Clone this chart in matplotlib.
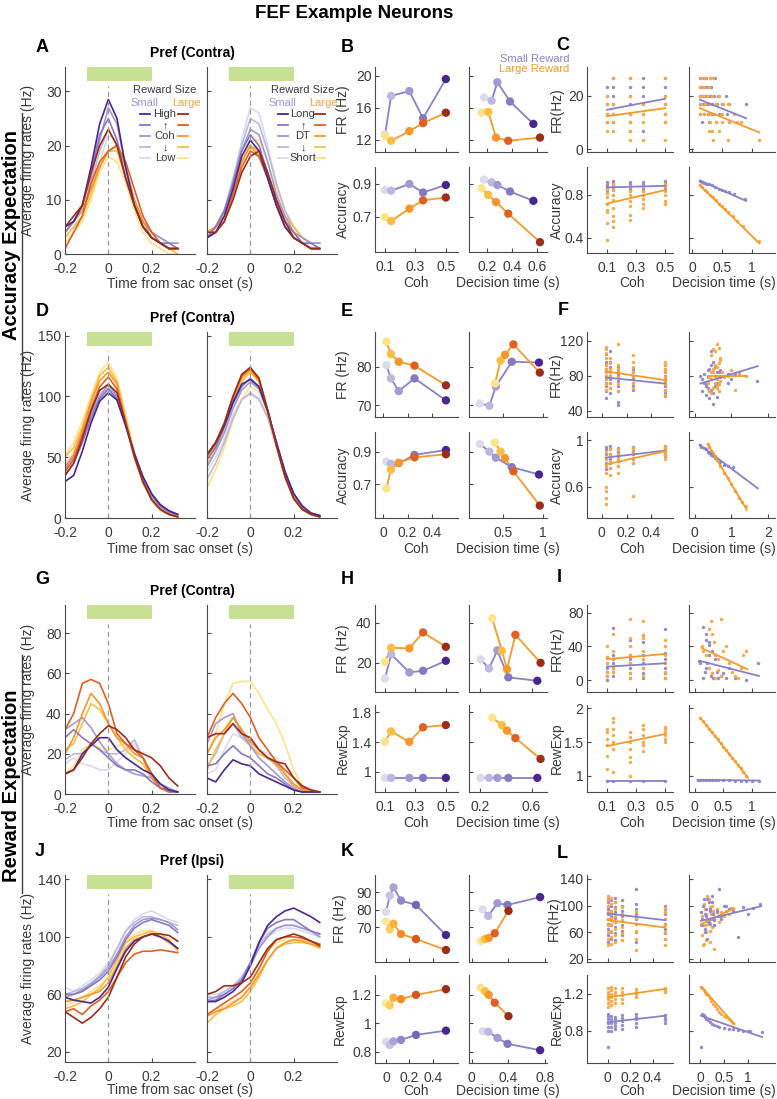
import matplotlib.pyplot as plt
import matplotlib.transforms as mtransforms
from matplotlib.lines import Line2D
from matplotlib.patches import Rectangle

plt.rcParams["font.family"] = ["Liberation Sans", "DejaVu Sans"]
plt.rcParams["axes.unicode_minus"] = False

W, H = 777, 1099

# colours (light -> dark)
PURPLE5 = ["#dcdbee", "#bdb8df", "#a29ad2", "#8679c3", "#4a2690"]
ORANGE5 = ["#fde389", "#fbbe40", "#f7962a", "#e1601f", "#9c2d16"]
PURPLE6 = ["#dddcef", "#c6c2e4", "#aba4d7", "#9187cb", "#7565bb", "#4a2690"]
ORANGE6 = ["#fde79c", "#fdcf5c", "#fbb03a", "#f38c26", "#da561d", "#9c2d16"]
P_LINE, O_LINE = "#8a80c8", "#f49b29"
P_DOT, O_DOT = "#958cd0", "#f6aa45"
GREEN = "#c6e193"
AXC, TXT = "#4a4a4a", "#3a3a3a"

# ---------------- PSTH data (time grid shared by all traces) ----------------
T = [-0.2, -0.16, -0.12, -0.08, -0.04, 0, 0.04, 0.08, 0.12, 0.16, 0.2, 0.24, 0.28, 0.32]

A_L_SMALL = [
    [3, 5, 7, 11, 17, 22, 21, 15, 10, 6, 4, 3, 2, 2],
    [4, 6, 8, 13, 19, 23, 20, 14, 9, 6, 4, 3, 2, 2],
    [5, 6, 9, 14, 21, 27, 24, 16, 10, 6, 4, 3, 2, 2],
    [4, 6, 9, 15, 22, 25, 21, 14, 9, 5, 3, 2, 2, 1],
    [5, 6, 9, 16, 24, 28.5, 25, 16, 9, 5, 3, 2, 1, 1],
]
A_L_LARGE = [
    [2, 4, 6, 10, 15, 18, 17, 13, 8, 4, 2, 1, 0, 0],
    [3, 5, 7, 11, 16, 19, 19, 14, 9, 5, 3, 2, 1, 0],
    [4, 6, 8, 12, 16, 19, 20, 16, 10, 6, 3, 2, 1, 1],
    [1, 4, 7, 13, 17, 19, 20, 17, 12, 7, 4, 2, 1, 1],
    [5, 7, 9, 15, 20, 23, 20, 14, 9, 5, 3, 2, 1, 1],
]
A_R_SMALL = [
    [3, 5, 8, 13, 21, 27, 26, 20, 13, 8, 5, 3, 2, 2],
    [4, 5, 8, 14, 20, 25, 24, 19, 13, 8, 5, 3, 2, 2],
    [3, 5, 8, 13, 19, 23, 22, 17, 11, 7, 4, 3, 2, 2],
    [3, 5, 8, 13, 19, 22, 20, 15, 10, 6, 4, 2, 2, 1],
    [3, 4, 7, 12, 18, 21, 19, 14, 9, 5, 3, 2, 1, 1],
]
A_R_LARGE = [
    [3, 4, 7, 12, 17, 21, 21, 17, 12, 8, 5, 3, 2, 2],
    [4, 5, 8, 12, 17, 20, 19, 15, 10, 7, 5, 3, 2, 1],
    [4, 5, 7, 12, 17, 20, 18, 14, 9, 6, 4, 2, 1, 1],
    [3, 4, 6, 11, 16, 19, 18, 14, 9, 5, 3, 2, 1, 1],
    [4, 4, 6, 10, 15, 18, 19, 15, 10, 6, 3, 2, 1, 1],
]

D_L_SMALL = [
    [45, 55, 70, 88, 102, 108, 98, 75, 50, 30, 16, 8, 4, 2],
    [42, 52, 68, 86, 100, 107, 99, 76, 52, 31, 17, 9, 4, 2],
    [40, 50, 66, 85, 100, 110, 100, 78, 53, 32, 18, 9, 5, 3],
    [35, 45, 62, 82, 98, 106, 98, 77, 53, 33, 19, 10, 5, 3],
    [30, 35, 55, 78, 96, 103, 97, 76, 53, 34, 20, 11, 6, 3],
]
D_L_LARGE = [
    [52, 62, 80, 100, 120, 128, 115, 85, 55, 32, 16, 7, 3, 1],
    [50, 58, 75, 97, 117, 124, 112, 82, 53, 30, 15, 7, 3, 1],
    [42, 52, 72, 95, 113, 120, 110, 80, 52, 30, 15, 7, 3, 1],
    [38, 48, 68, 90, 108, 116, 106, 78, 50, 29, 15, 7, 3, 1],
    [35, 45, 65, 88, 105, 110, 103, 78, 51, 30, 15, 7, 3, 1],
]
D_R_SMALL = [
    [38, 50, 65, 85, 98, 102, 97, 82, 58, 35, 18, 8, 3, 2],
    [32, 45, 62, 82, 97, 103, 98, 83, 60, 37, 20, 9, 4, 2],
    [42, 55, 70, 90, 105, 112, 106, 88, 63, 38, 20, 9, 4, 2],
    [48, 58, 75, 94, 108, 115, 108, 88, 62, 38, 20, 9, 4, 2],
    [52, 62, 76, 95, 110, 114, 108, 88, 62, 38, 20, 10, 4, 2],
]
D_R_LARGE = [
    [25, 40, 58, 80, 98, 108, 104, 85, 60, 36, 18, 8, 3, 1],
    [45, 55, 72, 95, 112, 120, 112, 88, 60, 35, 17, 7, 3, 1],
    [50, 60, 76, 98, 115, 122, 113, 88, 60, 35, 17, 7, 3, 1],
    [52, 62, 78, 100, 117, 123, 114, 88, 60, 34, 16, 7, 3, 1],
    [52, 62, 78, 100, 118, 124, 115, 89, 60, 34, 16, 7, 3, 1],
]

G_L_SMALL = [
    [15, 18, 15, 14, 12, 12, 16, 20, 25, 18, 10, 5, 2, 1],
    [17, 20, 20, 25, 22, 20, 20, 22, 27, 18, 10, 5, 2, 1],
    [32, 35, 38, 33, 26, 20, 15, 12, 10, 9, 8, 5, 3, 1],
    [28, 32, 28, 25, 22, 18, 14, 12, 12, 10, 6, 3, 1, 1],
    [10, 12, 20, 24, 28, 28, 22, 18, 15, 12, 10, 5, 2, 1],
]
G_L_LARGE = [
    [10, 14, 22, 25, 23, 22, 24, 25, 22, 18, 8, 3, 2, 1],
    [22, 25, 35, 45, 42, 35, 28, 22, 18, 15, 8, 3, 1, 1],
    [20, 28, 40, 50, 45, 35, 28, 25, 20, 18, 8, 3, 1, 1],
    [32, 40, 55, 57, 55, 45, 30, 25, 22, 18, 10, 3, 2, 1],
    [10, 12, 18, 25, 30, 34, 32, 28, 22, 20, 18, 14, 8, 4],
]
G_R_SMALL = [
    [10, 12, 22, 30, 28, 25, 22, 20, 18, 10, 4, 2, 1, 1],
    [14, 20, 30, 35, 28, 24, 20, 18, 14, 8, 4, 2, 1, 1],
    [25, 35, 38, 40, 30, 24, 18, 14, 10, 6, 3, 1, 1, 1],
    [14, 15, 20, 24, 20, 18, 14, 10, 8, 5, 2, 1, 1, 1],
    [8, 6, 12, 17, 15, 14, 10, 8, 6, 4, 2, 1, 1, 1],
]
G_R_LARGE = [
    [20, 30, 45, 55, 56, 56, 50, 42, 35, 25, 12, 4, 2, 1],
    [12, 22, 30, 38, 32, 24, 20, 18, 16, 10, 4, 2, 1, 1],
    [20, 28, 32, 38, 32, 26, 22, 18, 15, 10, 5, 2, 1, 1],
    [28, 38, 45, 50, 45, 38, 28, 22, 16, 12, 8, 3, 2, 1],
    [28, 30, 30, 35, 30, 28, 22, 18, 16, 15, 8, 4, 2, 1],
]

J_L_SMALL = [
    [65, 62, 66, 70, 75, 82, 92, 104, 112, 116, 118, 115, 112, 110],
    [60, 62, 64, 68, 73, 80, 92, 104, 110, 114, 114, 112, 110, 108],
    [58, 60, 63, 67, 72, 78, 88, 100, 108, 112, 113, 112, 110, 105],
    [60, 60, 62, 66, 70, 76, 86, 98, 106, 110, 112, 110, 108, 103],
    [58, 56, 55, 54, 58, 65, 78, 90, 97, 100, 102, 100, 97, 92],
]
J_L_LARGE = [
    [52, 55, 58, 62, 66, 72, 84, 96, 102, 104, 104, 100, 96, 92],
    [50, 52, 55, 60, 64, 72, 84, 96, 100, 102, 104, 102, 98, 90],
    [55, 56, 58, 60, 62, 68, 80, 92, 98, 100, 102, 100, 96, 92],
    [48, 50, 46, 52, 56, 62, 72, 82, 88, 90, 90, 91, 90, 89],
    [48, 44, 40, 44, 50, 58, 72, 86, 95, 100, 102, 102, 101, 97],
]
J_R_SMALL = [
    [60, 60, 62, 66, 72, 80, 92, 100, 104, 106, 106, 104, 102, 100],
    [58, 58, 62, 66, 72, 82, 94, 102, 106, 108, 108, 106, 104, 102],
    [56, 58, 60, 64, 70, 80, 92, 100, 106, 108, 108, 106, 104, 100],
    [55, 56, 60, 64, 70, 82, 96, 106, 110, 112, 112, 108, 104, 102],
    [55, 55, 58, 62, 68, 80, 96, 108, 114, 118, 120, 117, 114, 110],
]
J_R_LARGE = [
    [45, 48, 52, 55, 58, 65, 78, 90, 96, 98, 98, 97, 96, 94],
    [40, 46, 50, 52, 55, 62, 72, 84, 92, 95, 96, 96, 95, 92],
    [45, 48, 50, 54, 58, 65, 74, 84, 92, 96, 98, 97, 95, 93],
    [46, 50, 54, 58, 62, 68, 78, 90, 98, 100, 100, 99, 97, 95],
    [60, 62, 66, 66, 68, 72, 82, 92, 98, 100, 102, 100, 97, 94],
]

# ---------------- condition averages (B, E, H, K) ----------------
B_COH = [0.1, 0.14, 0.26, 0.35, 0.5]
B_FR_S = [12.7, 17.5, 18.1, 14.7, 19.6]
B_FR_L = [12.5, 11.9, 13.1, 14.1, 15.4]
B_ACC_S = [0.862, 0.858, 0.898, 0.847, 0.892]
B_ACC_L = [0.70, 0.676, 0.75, 0.80, 0.817]
B_DT_S = [0.176, 0.237, 0.283, 0.384, 0.571]
B_DT_L = [0.157, 0.21, 0.272, 0.37, 0.624]
B_DTFR_S = [17.3, 16.9, 19.2, 16.8, 14.0]
B_DTFR_L = [15.4, 15.5, 12.3, 11.9, 12.3]
B_DTACC_S = [0.924, 0.908, 0.892, 0.853, 0.797]
B_DTACC_L = [0.872, 0.833, 0.79, 0.72, 0.549]

E_COH = [0.028, 0.064, 0.128, 0.256, 0.512]
E_FR_S = [80.4, 77.0, 73.7, 77.0, 71.3]
E_FR_L = [86.5, 83.3, 81.3, 80.3, 75.2]
E_ACC_S = [0.839, 0.825, 0.829, 0.88, 0.91]
E_ACC_L = [0.675, 0.79, 0.832, 0.865, 0.884]
E_DT_S = [0.21, 0.33, 0.41, 0.61, 0.95]
E_DT_L = [0.40, 0.47, 0.525, 0.63, 0.96]
E_DTFR_S = [70.5, 69.9, 74.9, 81.3, 81.1]
E_DTFR_L = [75.7, 81.6, 83.1, 85.8, 78.5]
E_DTACC_S = [0.947, 0.90, 0.863, 0.805, 0.76]
E_DTACC_L = [0.955, 0.90, 0.86, 0.78, 0.57]

H_COH = [0.1, 0.14, 0.26, 0.35, 0.5]
H_FR_S = [12.2, 24.2, 15.2, 16.0, 21.0]
H_FR_L = [20.5, 27.5, 27.2, 35.2, 28.0]
H_REW_S = [0.92, 0.92, 0.92, 0.92, 0.92]
H_REW_L = [1.405, 1.545, 1.405, 1.60, 1.63]
H_DT_S = [0.205, 0.27, 0.335, 0.42, 0.645]
H_DT_L = [0.295, 0.37, 0.41, 0.475, 0.67]
H_DTFR_S = [21.7, 17.2, 26.2, 12.7, 11.0]
H_DTFR_L = [42.2, 26.0, 16.8, 34.0, 20.0]
H_DTREW_S = [0.92, 0.92, 0.92, 0.92, 0.92]
H_DTREW_L = [1.73, 1.63, 1.555, 1.455, 1.175]

K_COH = [0, 0.032, 0.064, 0.128, 0.256, 0.512]
K_FR_S = [78.8, 88.1, 92.9, 85.3, 82.8, 65.5]
K_FR_L = [73.4, 68.7, 72.0, 66.1, 63.2, 56.9]
K_REW_S = [0.87, 0.847, 0.873, 0.883, 0.918, 0.948]
K_REW_L = [1.14, 1.125, 1.18, 1.17, 1.20, 1.24]
K_DT_S = [0.12, 0.18, 0.28, 0.39, 0.745]
K_DT_L = [0.10, 0.145, 0.185, 0.25, 0.40]
K_DTFR_S = [80.2, 76.5, 83.8, 82.8, 87.3]
K_DTFR_L = [62.2, 63.2, 63.8, 66.5, 79.4]
K_DTREW_S = [0.944, 0.94, 0.897, 0.855, 0.81]
K_DTREW_L = [1.25, 1.225, 1.2, 1.145, 1.05]

# ---------------- single-trial clouds (C, F, I, L) ----------------
C_FR_S = [[10, 13.3, 16.7, 20, 23.3], [10, 13.3, 16.7, 20, 23.3, 26.7],
          [6.7, 10, 13.3, 16.7, 20, 23.3, 26.7], [6.7, 13.3, 16.7, 20, 23.3, 26.7],
          [10, 13.3, 16.7, 20, 23.3, 26.7]]
C_FR_L = [[6.7, 10, 13.3, 16.7, 20], [6.7, 10, 13.3, 16.7, 26.7],
          [3.3, 6.7, 10, 13.3, 20, 26.7], [3.3, 10, 13.3, 16.7],
          [3.3, 10, 13.3, 16.7, 20, 26.7]]
C_FR_FIT_S = [14.7, 18.8]
C_FR_FIT_L = [12.3, 15.3]
C_DT_S = [0.14, 0.2, 0.24, 0.3, 0.38, 0.14, 0.18, 0.22, 0.26, 0.32, 0.14, 0.17, 0.21, 0.25,
          0.3, 0.37, 0.44, 0.56, 0.14, 0.18, 0.22, 0.27, 0.33, 0.42, 0.5, 0.62, 0.14, 0.2,
          0.26, 0.34, 0.45, 0.58, 0.9, 0.16, 0.28, 0.4, 0.62]
C_DTFR_S = [26.7, 26.7, 26.7, 26.7, 26.7, 23.3, 23.3, 23.3, 23.3, 23.3, 20, 20, 20, 20,
            20, 20, 20, 20, 16.7, 16.7, 16.7, 16.7, 16.7, 16.7, 16.7, 16.7, 13.3, 13.3,
            13.3, 13.3, 13.3, 13.3, 16.7, 10, 10, 10, 10]
C_DT_L = [0.15, 0.22, 0.3, 0.35, 0.13, 0.2, 0.28, 0.14, 0.19, 0.25, 0.33, 0.45, 0.15, 0.22,
          0.3, 0.4, 0.52, 0.6, 0.14, 0.2, 0.28, 0.36, 0.5, 0.7, 0.3, 0.4, 0.5, 0.62, 0.75,
          0.82, 0.28, 0.33, 0.45, 1.12, 0.35, 0.6]
C_DTFR_L = [26.7, 26.7, 26.7, 26.7, 23.3, 23.3, 23.3, 20, 20, 20, 20, 20, 16.7, 16.7,
            16.7, 16.7, 16.7, 16.7, 13.3, 13.3, 13.3, 13.3, 13.3, 13.3, 10, 10, 10, 10, 10,
            10, 6.7, 6.7, 6.7, 3.3, 3.3, 3.3]
C_DTFR_FIT_X_S, C_DTFR_FIT_S = [0.13, 0.9], [18.5, 11.5]
C_DTFR_FIT_X_L, C_DTFR_FIT_L = [0.13, 1.12], [15.3, 6.2]
C_ACC_S = [[0.84, 0.86, 0.88, 0.9, 0.92], [0.85, 0.87, 0.89, 0.91, 0.93],
           [0.84, 0.86, 0.88, 0.9, 0.92], [0.84, 0.86, 0.88, 0.9, 0.92],
           [0.85, 0.87, 0.89, 0.91, 0.93]]
C_ACC_L = [[0.38, 0.54, 0.64, 0.66, 0.72, 0.78, 0.82, 0.86],
           [0.5, 0.56, 0.6, 0.68, 0.75, 0.8, 0.85, 0.9],
           [0.57, 0.61, 0.7, 0.74, 0.8, 0.84, 0.88],
           [0.68, 0.72, 0.76, 0.8, 0.84, 0.88], [0.72, 0.74, 0.8, 0.84, 0.88, 0.9]]
C_ACC_FIT_S = [0.87, 0.885]
C_ACC_FIT_L = [0.72, 0.845]
C_DT2_S = [0.13, 0.16, 0.2, 0.24, 0.28, 0.33, 0.38, 0.45, 0.5, 0.55, 0.62, 0.7, 0.88]
C_DTACC_S = [0.93, 0.92, 0.915, 0.905, 0.9, 0.89, 0.875, 0.86, 0.85, 0.84, 0.825, 0.81, 0.76]
C_DT2_L = [0.13, 0.17, 0.21, 0.25, 0.3, 0.35, 0.4, 0.45, 0.5, 0.55, 0.6, 0.68, 0.75, 0.85, 1.12]
C_DTACC_L = [0.89, 0.87, 0.85, 0.83, 0.8, 0.78, 0.75, 0.72, 0.7, 0.67, 0.64, 0.6, 0.56, 0.51, 0.37]
C_DTACC_FIT_X_S, C_DTACC_FIT_S = [0.13, 0.9], [0.935, 0.745]
C_DTACC_FIT_X_L, C_DTACC_FIT_L = [0.13, 1.12], [0.89, 0.35]

F_COH = [0.032, 0.064, 0.128, 0.256, 0.512]
F_FR_S = [[55, 62, 68, 72, 76, 80, 84, 88, 92, 96, 105], [60, 66, 72, 76, 80, 84, 90, 96, 108],
          [47, 50, 63, 68, 74, 78, 82, 86, 90], [64, 68, 72, 76, 80, 84, 88],
          [57, 60, 64, 68, 72, 76, 80, 84, 88, 92]]
F_FR_L = [[64, 70, 76, 80, 84, 88, 92, 100, 106, 110, 113], [66, 72, 78, 84, 88, 94, 100],
          [62, 70, 78, 84, 88, 92, 116], [66, 72, 80, 84, 90, 96, 104],
          [58, 64, 70, 74, 78, 84, 88, 92, 96]]
F_FR_FIT_S = [78, 71]
F_FR_FIT_L = [85, 75]
F_DT_S = [0.15, 0.2, 0.25, 0.3, 0.35, 0.4, 0.45, 0.5, 0.55, 0.6, 0.65, 0.7, 0.8, 0.9, 1.0, 1.1,
          1.2, 1.7, 0.2, 0.3, 0.35, 0.4, 0.45, 0.5, 0.55, 0.6, 0.7, 0.8, 0.3, 0.4, 0.5, 0.6,
          0.45, 0.25, 0.35, 0.9]
F_DTFR_S = [80, 76, 72, 70, 66, 62, 64, 60, 68, 72, 84, 78, 80, 82, 76, 82, 84, 74, 62, 68,
            78, 88, 92, 96, 90, 84, 86, 80, 58, 54, 48, 56, 108, 82, 86, 72]
F_DT_L = [0.35, 0.4, 0.45, 0.5, 0.55, 0.6, 0.65, 0.7, 0.75, 0.8, 0.9, 1.0, 1.2, 1.4, 0.4, 0.45,
          0.5, 0.55, 0.6, 0.65, 0.7, 0.45, 0.5, 0.55, 0.6, 0.65, 0.7, 0.6, 0.65, 0.5, 0.55,
          0.45, 0.6, 1.1]
F_DTFR_L = [72, 78, 84, 88, 80, 76, 70, 74, 84, 78, 80, 86, 82, 80, 64, 60, 66, 72, 90, 94,
            100, 104, 110, 108, 116, 112, 98, 66, 62, 84, 92, 76, 68, 64]
F_DTFR_FIT_X_S, F_DTFR_FIT_S = [0.15, 1.72], [71, 91]
F_DTFR_FIT_X_L, F_DTFR_FIT_L = [0.35, 1.4], [80, 80]
F_ACC_S = [[0.75, 0.8, 0.84, 0.88, 0.92, 0.94], [0.76, 0.8, 0.84, 0.88, 0.92, 0.95],
           [0.78, 0.82, 0.86, 0.9, 0.93], [0.8, 0.84, 0.88, 0.91, 0.94],
           [0.86, 0.88, 0.9, 0.92, 0.95]]
F_ACC_L = [[0.45, 0.5, 0.56, 0.6, 0.72, 0.78, 0.84, 0.9], [0.7, 0.76, 0.82, 0.88, 0.92],
           [0.72, 0.78, 0.84, 0.88, 0.92], [0.52, 0.8, 0.85, 0.9, 0.93],
           [0.84, 0.87, 0.9, 0.93, 0.95]]
F_ACC_FIT_S = [0.85, 0.91]
F_ACC_FIT_L = [0.79, 0.905]
F_DT2_S = [0.13, 0.18, 0.25, 0.3, 0.35, 0.4, 0.45, 0.5, 0.55, 0.6, 0.7, 0.8, 0.9, 1.05]
F_DTACC_S = [0.955, 0.945, 0.93, 0.92, 0.9, 0.89, 0.875, 0.86, 0.845, 0.83, 0.81, 0.79, 0.78, 0.77]
F_DT2_L = [0.35, 0.4, 0.45, 0.5, 0.55, 0.6, 0.7, 0.8, 0.9, 1.0, 1.1, 1.2, 1.3, 1.4]
F_DTACC_L = [0.965, 0.94, 0.91, 0.89, 0.86, 0.83, 0.78, 0.72, 0.67, 0.62, 0.56, 0.5, 0.47, 0.43]
F_DTACC_FIT_X_S, F_DTACC_FIT_S = [0.13, 1.72], [0.96, 0.585]
F_DTACC_FIT_X_L, F_DTACC_FIT_L = [0.35, 1.42], [0.965, 0.40]

I_COH = [0.1, 0.14, 0.26, 0.35, 0.5]
I_FR_S = [[0, 5, 10, 15, 20, 27], [5, 10, 15, 20, 25, 30, 62], [3, 8, 15, 20, 25, 30, 47],
          [3, 8, 15, 20, 25, 30, 45, 53], [3, 8, 15, 20, 25, 32, 60]]
I_FR_L = [[5, 10, 20, 28, 40], [10, 15, 25, 35, 55], [3, 8, 20, 30, 40, 50, 73],
          [5, 15, 25, 35, 50, 53, 70], [3, 10, 20, 30, 40, 47]]
I_FR_FIT_S = [16, 20]
I_FR_FIT_L = [25, 31]
I_DT_S = [0.08, 0.1, 0.15, 0.18, 0.2, 0.22, 0.25, 0.28, 0.3, 0.32, 0.35, 0.38, 0.4, 0.45, 0.5,
          0.55, 0.6, 0.7, 0.9, 1.1, 0.15, 0.2, 0.25, 0.3, 0.35, 0.2, 0.25]
I_DTFR_S = [23, 20, 3, 10, 15, 20, 30, 5, 8, 3, 25, 10, 3, 5, 8, 3, 15, 3, 0, 20, 63, 55, 42,
            35, 30, 48, 45]
I_DT_L = [0.12, 0.15, 0.2, 0.25, 0.28, 0.3, 0.33, 0.35, 0.4, 0.45, 0.5, 0.55, 0.6, 0.65, 0.7,
          0.75, 0.8, 0.85, 0.9, 0.25, 0.3, 0.35, 0.4, 0.45]
I_DTFR_L = [40, 35, 30, 60, 70, 55, 45, 30, 25, 72, 35, 40, 20, 10, 5, 3, 15, 30, 35, 15, 8, 3,
            12, 5]
I_DTFR_FIT_X_S, I_DTFR_FIT_S = [0.08, 1.12], [23, 5]
I_DTFR_FIT_X_L, I_DTFR_FIT_L = [0.12, 0.92], [38, 13]
I_REW_S = [[0.93], [0.93], [0.93], [0.93], [0.93]]
I_REW_L = [[1.1, 1.3, 1.45, 1.55, 1.65, 1.7], [1.05, 1.4, 1.5, 1.6, 1.7, 1.8, 1.85],
           [1.0, 1.2, 1.28, 1.4, 1.5, 1.58, 1.65], [1.37, 1.45, 1.5, 1.6, 1.7, 1.75],
           [1.5, 1.55, 1.6, 1.65, 1.7, 1.73]]
I_REW_FIT_S = [0.93, 0.93]
I_REW_FIT_L = [1.44, 1.62]
I_DT2_S = [0.05, 0.1, 0.15, 0.2, 0.25, 0.3, 0.35, 0.4, 0.5, 0.6, 0.7, 0.8, 0.9, 1.0, 1.12]
I_DTREW_S = [0.94, 0.94, 0.94, 0.94, 0.94, 0.935, 0.935, 0.935, 0.935, 0.935, 0.93, 0.93,
             0.93, 0.93, 0.93]
I_DT2_L = [0.1, 0.15, 0.2, 0.25, 0.3, 0.35, 0.4, 0.45, 0.5, 0.55, 0.6, 0.65, 0.7, 0.75, 0.8,
           0.85, 0.9]
I_DTREW_L = [1.86, 1.81, 1.75, 1.70, 1.65, 1.59, 1.54, 1.48, 1.43, 1.38, 1.32, 1.27, 1.22,
             1.16, 1.11, 1.05, 1.0]
I_DTREW_FIT_X_S, I_DTREW_FIT_S = [0.05, 1.12], [0.94, 0.93]
I_DTREW_FIT_X_L, I_DTREW_FIT_L = [0.1, 0.93], [1.86, 0.97]

L_COH = [0, 0.032, 0.064, 0.128, 0.256, 0.512]
L_FR_S = [[45, 55, 65, 72, 80, 88, 95, 100, 105, 110], [50, 60, 70, 78, 85, 92, 100, 108],
          [48, 58, 68, 75, 82, 90, 98, 105, 112], [55, 62, 70, 78, 85, 92, 100, 108],
          [45, 60, 72, 80, 88, 95, 102, 125], [50, 58, 65, 72, 80, 88, 95, 100]]
L_FR_L = [[40, 50, 60, 70, 80, 90, 100, 108, 115], [42, 52, 62, 72, 82, 92, 102, 112],
          [45, 55, 65, 75, 85, 95, 105], [48, 58, 68, 78, 88, 98], [33, 50, 62, 72, 82, 92],
          [40, 50, 60, 70, 80, 90, 96]]
L_FR_FIT_S = [88, 78]
L_FR_FIT_L = [78, 67]
L_DT_S = [0.03, 0.05, 0.07, 0.1, 0.12, 0.15, 0.18, 0.2, 0.22, 0.25, 0.28, 0.3, 0.35, 0.4, 0.45,
          0.5, 0.6, 0.7, 0.8, 0.9, 1.0, 1.1, 1.25, 0.05, 0.08, 0.1, 0.12, 0.15, 0.18, 0.2,
          0.25, 0.3, 0.35, 0.45, 0.55, 0.1, 0.15, 0.2, 0.3, 0.4]
L_DTFR_S = [90, 70, 100, 60, 85, 110, 75, 95, 80, 105, 88, 70, 90, 125, 85, 100, 95, 92, 52,
            98, 88, 96, 102, 80, 110, 65, 95, 50, 105, 72, 115, 78, 92, 80, 100, 88, 76, 92,
            70, 84]
L_DT_L = [0.03, 0.05, 0.07, 0.1, 0.12, 0.15, 0.18, 0.2, 0.22, 0.25, 0.28, 0.3, 0.35, 0.4, 0.45,
          0.5, 0.55, 0.6, 0.65, 0.7, 0.05, 0.08, 0.1, 0.12, 0.15, 0.18, 0.2, 0.25, 0.3, 0.08,
          0.12, 0.16, 0.2]
L_DTFR_L = [70, 85, 40, 95, 60, 78, 110, 45, 88, 68, 92, 80, 95, 75, 90, 85, 92, 88, 96, 95,
            55, 102, 70, 48, 115, 80, 62, 100, 35, 42, 88, 72, 98]
L_DTFR_FIT_X_S, L_DTFR_FIT_S = [0.02, 1.28], [77, 99]
L_DTFR_FIT_X_L, L_DTFR_FIT_L = [0.02, 0.72], [72, 96]
L_REW_S = [[0.62, 0.8, 0.84, 0.88, 0.92, 0.96, 0.98], [0.8, 0.84, 0.88, 0.92, 0.96],
           [0.82, 0.85, 0.88, 0.92, 0.95], [0.82, 0.86, 0.9, 0.94, 0.97],
           [0.84, 0.88, 0.92, 0.95, 0.98], [0.88, 0.91, 0.94, 0.97]]
L_REW_L = [[1.05, 1.1, 1.14, 1.18, 1.22, 1.26], [1.08, 1.12, 1.16, 1.2, 1.24, 1.27],
           [1.1, 1.14, 1.18, 1.22, 1.26], [1.1, 1.14, 1.18, 1.22, 1.26],
           [1.16, 1.19, 1.22, 1.25], [1.22, 1.24, 1.26]]
L_REW_FIT_S = [0.89, 0.96]
L_REW_FIT_L = [1.16, 1.25]
L_DT2_S = [0.02, 0.05, 0.08, 0.1, 0.13, 0.16, 0.2, 0.25, 0.3, 0.35, 0.4, 0.5, 0.6, 0.7, 0.8,
           0.9, 1.0, 1.05, 1.3]
L_DTREW_S = [0.62, 0.98, 0.97, 0.95, 0.93, 0.91, 0.89, 0.87, 0.86, 0.85, 0.84, 0.83, 0.82,
             0.82, 0.81, 0.8, 0.8, 0.8, 0.79]
L_DT2_L = [0.03, 0.05, 0.08, 0.1, 0.13, 0.16, 0.2, 0.24, 0.28, 0.32, 0.36, 0.4, 0.45, 0.5,
           0.55, 0.6, 0.65, 0.7]
L_DTREW_L = [1.27, 1.26, 1.24, 1.22, 1.2, 1.18, 1.15, 1.12, 1.09, 1.06, 1.03, 1.0, 0.98, 0.96,
             0.95, 0.92, 0.9, 0.88]
L_DTREW_FIT_X_S, L_DTREW_FIT_S = [0.02, 1.3], [0.96, 0.73]
L_DTREW_FIT_X_L, L_DTREW_FIT_L = [0.03, 0.72], [1.27, 0.87]


fig = plt.figure(figsize=(W / 100, H / 100), dpi=100)


def box(x0, y0, x1, y1):
    # pixel box (y from top) -> axes
    return fig.add_axes([x0 / W, 1 - y1 / H, (x1 - x0) / W, (y1 - y0) / H])


def ptxt(x, y, s, **kw):
    kw.setdefault("ha", "center")
    kw.setdefault("va", "center")
    kw.setdefault("color", TXT)
    fig.text(x / W, 1 - y / H, s, **kw)


def pline(x0, x1, y0, y1, c, lw=1.3):
    fig.add_artist(Line2D([x0 / W, x1 / W], [1 - y0 / H, 1 - y1 / H], color=c, lw=lw))


def style(ax, xlim, ylim, xticks, yticks, xlab=True, ylab=True):
    ax.set_xlim(xlim)
    ax.set_ylim(ylim)
    ax.set_xticks(xticks)
    ax.set_yticks(yticks)
    ax.set_xticklabels([f"{v:g}" for v in xticks] if xlab else [])
    ax.set_yticklabels([f"{v:g}" for v in yticks] if ylab else [])
    for s in ["top", "right"]:
        ax.spines[s].set_visible(False)
    for s in ["left", "bottom"]:
        ax.spines[s].set_color(AXC)
        ax.spines[s].set_linewidth(0.8)
    ax.tick_params(direction="in", length=3, width=0.8, color=AXC, labelcolor=TXT,
                   labelsize=10)
    ax.tick_params(axis="x", pad=6)
    ax.tick_params(axis="y", pad=2.5)
    ax.patch.set_alpha(0)


def ylabel(ax, text, xpix, x0, w):
    ax.set_ylabel(text, fontsize=10, color=TXT)
    ax.yaxis.set_label_coords((xpix - x0) / w, 0.5)


def psth(ax, small, large):
    for i in range(5):
        ax.plot(T, small[i], color=PURPLE5[i], lw=1.2)
        ax.plot(T, large[i], color=ORANGE5[i], lw=1.2)
    tr = mtransforms.blended_transform_factory(ax.transData, ax.transAxes)
    ax.add_patch(Rectangle((-0.1, 0.925), 0.3, 0.075, transform=tr, color=GREEN, lw=0))
    ax.plot([0, 0], [0, 0.9], transform=tr, ls=(0, (4, 3)), color="#9a9a9a", lw=0.9)


def dots(ax, x, y, cols, lc):
    ax.plot(x, y, color=lc, lw=1.3, zorder=2)
    ax.scatter(x, y, s=36, c=cols, zorder=3, linewidths=0)


def cols_xy(xs, groups):
    xx, yy = [], []
    for x, g in zip(xs, groups):
        for v in g:
            xx.append(x)
            yy.append(v)
    return xx, yy


def cloud(ax, xs, ys, fx, fy, dc, lc):
    ax.scatter(xs, ys, s=6, color=dc, linewidths=0, zorder=2)
    ax.plot(fx, fy, color=lc, lw=1.3, zorder=3)


def psth_row(ytop, ybot, lsmall, llarge, rsmall, rlarge, ylim, yticks, title, xlab_y):
    a1 = box(65, ytop, 195, ybot)
    a2 = box(207, ytop, 337, ybot)
    psth(a1, lsmall, llarge)
    psth(a2, rsmall, rlarge)
    style(a1, (-0.2, 0.4), ylim, [-0.2, 0, 0.2], yticks)
    style(a2, (-0.2, 0.4), ylim, [-0.2, 0, 0.2], yticks, ylab=False)
    ylabel(a1, "Average firing rates (Hz)", 35, 65, 130)
    ptxt(192, ytop - 14, title, fontsize=10, fontweight="bold", color="black")
    ptxt(180, xlab_y, "Time from sac onset (s)", fontsize=10)
    return a1, a2


# ---------------- figure text ----------------
ptxt(255, 13, "FEF Example Neurons", fontsize=13.5, fontweight="bold", color="black", ha="left")
ptxt(12, 235, "Accuracy Expectation", fontsize=14.5, fontweight="bold", color="black",
     rotation=90)
ptxt(12, 786, "Reward Expectation", fontsize=14.5, fontweight="bold", color="black",
     rotation=90)
pline(22, 22, 113, 400, "#404040", lw=1.0)
pline(22, 22, 655, 893, "#404040", lw=1.0)
for lab, x, y in [("A", 42, 48), ("B", 347, 48), ("C", 563, 45), ("D", 42, 312),
                  ("E", 347, 312), ("F", 563, 310), ("G", 42, 579), ("H", 347, 579),
                  ("I", 559, 578), ("J", 40, 852), ("K", 347, 852), ("L", 562, 853)]:
    ptxt(x, y, lab, fontsize=13, fontweight="bold", color="black")

# ---------------- row 1: A B C ----------------
psth_row(67, 254, A_L_SMALL, A_L_LARGE, A_R_SMALL, A_R_LARGE, (0, 34.5), [0, 10, 20, 30],
         "Pref (Contra)", 284)

for xc, xs, xl, words in [(165, 140, 178, ["High", "↑", "Coh", "↓", "Low"]),
                          (303, 278, 315, ["Long", "↑", "DT", "↓", "Short"])]:
    ptxt(xc, 90, "Reward Size", fontsize=8)
    ptxt(xs + 4, 103, "Small", fontsize=8, color="#9d95d8")
    ptxt(xl + 8, 103, "Large", fontsize=8, color="#f7a540")
    for k, (wd, yy) in enumerate(zip(words, [114, 125, 136, 147, 158])):
        pline(xs, xs + 10, yy, yy, PURPLE5[4 - k])
        pline(xl, xl + 10, yy, yy, ORANGE5[4 - k])
        ptxt(xc, yy, wd, fontsize=8)

ax = box(375, 67, 458, 152)
dots(ax, B_COH, B_FR_S, PURPLE5, P_LINE)
dots(ax, B_COH, B_FR_L, ORANGE5, O_LINE)
style(ax, (0.034, 0.58), (10.5, 21.1), [0.1, 0.3, 0.5], [12, 16, 20], xlab=False)
ylabel(ax, "FR (Hz)", 350, 375, 83)
ax = box(469, 67, 547, 152)
dots(ax, B_DT_S, B_DTFR_S, PURPLE5, P_LINE)
dots(ax, B_DT_L, B_DTFR_L, ORANGE5, O_LINE)
style(ax, (0.056, 0.68), (10.5, 21.1), [0.2, 0.4, 0.6], [12, 16, 20], xlab=False, ylab=False)
ax = box(375, 167, 458, 252)
dots(ax, B_COH, B_ACC_S, PURPLE5, P_LINE)
dots(ax, B_COH, B_ACC_L, ORANGE5, O_LINE)
style(ax, (0.034, 0.58), (0.49, 1.0), [0.1, 0.3, 0.5], [0.7, 0.9])
ylabel(ax, "Accuracy", 350, 375, 83)
ax = box(469, 167, 547, 252)
dots(ax, B_DT_S, B_DTACC_S, PURPLE5, P_LINE)
dots(ax, B_DT_L, B_DTACC_L, ORANGE5, O_LINE)
style(ax, (0.056, 0.68), (0.49, 1.0), [0.2, 0.4, 0.6], [0.7, 0.9], ylab=False)
ptxt(569, 59, "Small Reward", fontsize=8, color="#8c82cc", ha="right")
ptxt(569, 69, "Large Reward", fontsize=8, color="#f59a2a", ha="right")

ax = box(587, 67, 673, 152)
x, y = cols_xy(B_COH, C_FR_S)
cloud(ax, x, y, [0.1, 0.5], C_FR_FIT_S, P_DOT, P_LINE)
x, y = cols_xy(B_COH, C_FR_L)
cloud(ax, x, y, [0.1, 0.5], C_FR_FIT_L, O_DOT, O_LINE)
style(ax, (-0.038, 0.555), (-1.1, 30.7), [0.1, 0.3, 0.5], [0, 20], xlab=False)
ylabel(ax, "FR(Hz)", 564, 587, 86)
ax = box(689, 67, 775, 152)
cloud(ax, C_DT_S, C_DTFR_S, C_DTFR_FIT_X_S, C_DTFR_FIT_S, P_DOT, P_LINE)
cloud(ax, C_DT_L, C_DTFR_L, C_DTFR_FIT_X_L, C_DTFR_FIT_L, O_DOT, O_LINE)
style(ax, (-0.05, 1.38), (-1.1, 30.7), [0, 0.5, 1], [0, 20], xlab=False, ylab=False)
ax = box(587, 167, 673, 253)
x, y = cols_xy(B_COH, C_ACC_S)
cloud(ax, x, y, [0.1, 0.5], C_ACC_FIT_S, P_DOT, P_LINE)
x, y = cols_xy(B_COH, C_ACC_L)
cloud(ax, x, y, [0.1, 0.5], C_ACC_FIT_L, O_DOT, O_LINE)
style(ax, (-0.038, 0.555), (0.26, 1.06), [0.1, 0.3, 0.5], [0.4, 0.8])
ylabel(ax, "Accuracy", 564, 587, 86)
ax = box(689, 167, 775, 253)
cloud(ax, C_DT2_S, C_DTACC_S, C_DTACC_FIT_X_S, C_DTACC_FIT_S, P_DOT, P_LINE)
cloud(ax, C_DT2_L, C_DTACC_L, C_DTACC_FIT_X_L, C_DTACC_FIT_L, O_DOT, O_LINE)
style(ax, (-0.05, 1.38), (0.26, 1.06), [0, 0.5, 1], [0.4, 0.8], ylab=False)
for xc, s in [(416, "Coh"), (508, "Decision time (s)"), (632, "Coh"), (724, "Decision time (s)")]:
    ptxt(xc, 283, s, fontsize=10)

# ---------------- row 2: D E F ----------------
psth_row(332, 518, D_L_SMALL, D_L_LARGE, D_R_SMALL, D_R_LARGE, (0, 153), [0, 50, 100, 150],
         "Pref (Contra)", 549)

ax = box(375, 332, 458, 417)
dots(ax, E_COH, E_FR_S, PURPLE5, P_LINE)
dots(ax, E_COH, E_FR_L, ORANGE5, O_LINE)
style(ax, (-0.065, 0.61), (67, 89), [0, 0.2, 0.4], [70, 80], xlab=False)
ylabel(ax, "FR (Hz)", 350, 375, 83)
ax = box(469, 332, 547, 417)
dots(ax, E_DT_S, E_DTFR_S, PURPLE5, P_LINE)
dots(ax, E_DT_L, E_DTFR_L, ORANGE5, O_LINE)
style(ax, (0.075, 1.05), (67, 89), [0.5, 1], [70, 80], xlab=False, ylab=False)
ax = box(375, 432, 458, 518)
dots(ax, E_COH, E_ACC_S, PURPLE5, P_LINE)
dots(ax, E_COH, E_ACC_L, ORANGE5, O_LINE)
style(ax, (-0.065, 0.61), (0.494, 1.02), [0, 0.2, 0.4], [0.7, 0.9])
ylabel(ax, "Accuracy", 350, 375, 83)
ax = box(469, 432, 547, 518)
dots(ax, E_DT_S, E_DTACC_S, PURPLE5, P_LINE)
dots(ax, E_DT_L, E_DTACC_L, ORANGE5, O_LINE)
style(ax, (0.075, 1.05), (0.494, 1.02), [0.5, 1], [0.7, 0.9], ylab=False)

ax = box(587, 332, 673, 417)
x, y = cols_xy(F_COH, F_FR_S)
cloud(ax, x, y, [0.032, 0.512], F_FR_FIT_S, P_DOT, P_LINE)
x, y = cols_xy(F_COH, F_FR_L)
cloud(ax, x, y, [0.032, 0.512], F_FR_FIT_L, O_DOT, O_LINE)
style(ax, (-0.12, 0.576), (32.8, 130), [0, 0.2, 0.4], [40, 80, 120], xlab=False)
ylabel(ax, "FR(Hz)", 563, 587, 86)
ax = box(689, 332, 775, 417)
cloud(ax, F_DT_S, F_DTFR_S, F_DTFR_FIT_X_S, F_DTFR_FIT_S, P_DOT, P_LINE)
cloud(ax, F_DT_L, F_DTFR_L, F_DTFR_FIT_X_L, F_DTFR_FIT_L, O_DOT, O_LINE)
style(ax, (-0.16, 2.19), (32.8, 130), [0, 1, 2], [40, 80, 120], xlab=False, ylab=False)
ax = box(587, 432, 673, 518)
x, y = cols_xy(F_COH, F_ACC_S)
cloud(ax, x, y, [0.032, 0.512], F_ACC_FIT_S, P_DOT, P_LINE)
x, y = cols_xy(F_COH, F_ACC_L)
cloud(ax, x, y, [0.032, 0.512], F_ACC_FIT_L, O_DOT, O_LINE)
style(ax, (-0.12, 0.576), (0.33, 1.07), [0, 0.2, 0.4], [0.6, 1])
ylabel(ax, "Accuracy", 564, 587, 86)
ax = box(689, 432, 775, 518)
cloud(ax, F_DT2_S, F_DTACC_S, F_DTACC_FIT_X_S, F_DTACC_FIT_S, P_DOT, P_LINE)
cloud(ax, F_DT2_L, F_DTACC_L, F_DTACC_FIT_X_L, F_DTACC_FIT_L, O_DOT, O_LINE)
style(ax, (-0.16, 2.19), (0.33, 1.07), [0, 1, 2], [0.6, 1], ylab=False)
for xc, s in [(416, "Coh"), (508, "Decision time (s)"), (632, "Coh"), (724, "Decision time (s)")]:
    ptxt(xc, 549, s, fontsize=10)

# ---------------- row 3: G H I ----------------
psth_row(605, 794, G_L_SMALL, G_L_LARGE, G_R_SMALL, G_R_LARGE, (0, 94), [0, 20, 40, 60, 80],
         "Pref (Contra)", 823)

ax = box(375, 605, 458, 692)
dots(ax, H_COH, H_FR_S, PURPLE5, P_LINE)
dots(ax, H_COH, H_FR_L, ORANGE5, O_LINE)
style(ax, (0.034, 0.58), (5.4, 48.9), [0.1, 0.3, 0.5], [20, 40], xlab=False)
ylabel(ax, "FR (Hz)", 350, 375, 83)
ax = box(469, 605, 547, 692)
dots(ax, H_DT_S, H_DTFR_S, PURPLE5, P_LINE)
dots(ax, H_DT_L, H_DTFR_L, ORANGE5, O_LINE)
style(ax, (0.115, 0.72), (5.4, 48.9), [0.2, 0.6], [20, 40], xlab=False, ylab=False)
ax = box(375, 705, 458, 792)
dots(ax, H_COH, H_REW_S, PURPLE5, P_LINE)
dots(ax, H_COH, H_REW_L, ORANGE5, O_LINE)
style(ax, (0.034, 0.58), (0.73, 1.9), [0.1, 0.3, 0.5], [1, 1.4, 1.8])
ylabel(ax, "RewExp", 350, 375, 83)
ax = box(469, 705, 547, 792)
dots(ax, H_DT_S, H_DTREW_S, PURPLE5, P_LINE)
dots(ax, H_DT_L, H_DTREW_L, ORANGE5, O_LINE)
style(ax, (0.115, 0.72), (0.73, 1.9), [0.2, 0.6], [1, 1.4, 1.8], ylab=False)

ax = box(587, 605, 673, 692)
x, y = cols_xy(I_COH, I_FR_S)
cloud(ax, x, y, [0.1, 0.5], I_FR_FIT_S, P_DOT, P_LINE)
x, y = cols_xy(I_COH, I_FR_L)
cloud(ax, x, y, [0.1, 0.5], I_FR_FIT_L, O_DOT, O_LINE)
style(ax, (-0.038, 0.555), (-14, 89), [0.1, 0.3, 0.5], [0, 40, 80], xlab=False)
ylabel(ax, "FR(Hz)", 564, 587, 86)
ax = box(689, 605, 775, 692)
cloud(ax, I_DT_S, I_DTFR_S, I_DTFR_FIT_X_S, I_DTFR_FIT_S, P_DOT, P_LINE)
cloud(ax, I_DT_L, I_DTFR_L, I_DTFR_FIT_X_L, I_DTFR_FIT_L, O_DOT, O_LINE)
style(ax, (-0.1, 1.4), (-14, 89), [0, 0.5, 1], [0, 40, 80], xlab=False, ylab=False)
ax = box(587, 705, 673, 792)
x, y = cols_xy(I_COH, I_REW_S)
cloud(ax, x, y, [0.1, 0.5], I_REW_FIT_S, P_DOT, P_LINE)
x, y = cols_xy(I_COH, I_REW_L)
cloud(ax, x, y, [0.1, 0.5], I_REW_FIT_L, O_DOT, O_LINE)
style(ax, (-0.038, 0.555), (0.76, 2.05), [0.1, 0.3, 0.5], [1, 1.5, 2])
ylabel(ax, "RewExp", 564, 587, 86)
ax = box(689, 705, 775, 792)
cloud(ax, I_DT2_S, I_DTREW_S, I_DTREW_FIT_X_S, I_DTREW_FIT_S, P_DOT, P_LINE)
cloud(ax, I_DT2_L, I_DTREW_L, I_DTREW_FIT_X_L, I_DTREW_FIT_L, O_DOT, O_LINE)
style(ax, (-0.1, 1.4), (0.76, 2.05), [0, 0.5, 1], [1, 1.5, 2], ylab=False)
for xc, s in [(416, "Coh"), (508, "Decision time (s)"), (632, "Coh"), (724, "Decision time (s)")]:
    ptxt(xc, 823, s, fontsize=10)

# ---------------- row 4: J K L ----------------
psth_row(875, 1062, J_L_SMALL, J_L_LARGE, J_R_SMALL, J_R_LARGE, (13, 143), [20, 60, 100, 140],
         "Pref (Ipsi)", 1090)

ax = box(375, 875, 458, 962)
dots(ax, K_COH, K_FR_S, PURPLE6, P_LINE)
dots(ax, K_COH, K_FR_L, ORANGE6, O_LINE)
style(ax, (-0.094, 0.615), (50, 100), [0, 0.2, 0.4], [70, 80, 90], xlab=False)
ylabel(ax, "FR (Hz)", 347, 375, 83)
ax = box(469, 875, 547, 962)
dots(ax, K_DT_S, K_DTFR_S, PURPLE5, P_LINE)
dots(ax, K_DT_L, K_DTFR_L, ORANGE5, O_LINE)
style(ax, (-0.03, 0.82), (50, 100), [0, 0.4, 0.8], [70, 80, 90], xlab=False, ylab=False)
ax = box(375, 975, 458, 1063)
dots(ax, K_COH, K_REW_S, PURPLE6, P_LINE)
dots(ax, K_COH, K_REW_L, ORANGE6, O_LINE)
style(ax, (-0.094, 0.615), (0.72, 1.34), [0, 0.2, 0.4], [0.8, 1, 1.2])
ylabel(ax, "RewExp", 347, 375, 83)
ax = box(469, 975, 547, 1063)
dots(ax, K_DT_S, K_DTREW_S, PURPLE5, P_LINE)
dots(ax, K_DT_L, K_DTREW_L, ORANGE5, O_LINE)
style(ax, (-0.03, 0.82), (0.72, 1.34), [0, 0.4, 0.8], [0.8, 1, 1.2], ylab=False)

ax = box(587, 875, 673, 962)
x, y = cols_xy(L_COH, L_FR_S)
cloud(ax, x, y, [0, 0.512], L_FR_FIT_S, P_DOT, P_LINE)
x, y = cols_xy(L_COH, L_FR_L)
cloud(ax, x, y, [0, 0.512], L_FR_FIT_L, O_DOT, O_LINE)
style(ax, (-0.185, 0.583), (15, 146), [0, 0.2, 0.4], [20, 60, 100, 140], xlab=False)
ylabel(ax, "FR(Hz)", 561, 587, 86)
ax = box(689, 875, 775, 962)
cloud(ax, L_DT_L, L_DTFR_L, L_DTFR_FIT_X_L, L_DTFR_FIT_L, O_DOT, O_LINE)
cloud(ax, L_DT_S, L_DTFR_S, L_DTFR_FIT_X_S, L_DTFR_FIT_S, P_DOT, P_LINE)
style(ax, (-0.23, 1.57), (15, 146), [0, 0.5, 1], [20, 60, 100, 140], xlab=False, ylab=False)
ax = box(587, 975, 673, 1063)
x, y = cols_xy(L_COH, L_REW_S)
cloud(ax, x, y, [0, 0.512], L_REW_FIT_S, P_DOT, P_LINE)
x, y = cols_xy(L_COH, L_REW_L)
cloud(ax, x, y, [0, 0.512], L_REW_FIT_L, O_DOT, O_LINE)
style(ax, (-0.185, 0.583), (0.45, 1.4), [0, 0.2, 0.4], [0.8, 1.2])
ylabel(ax, "RewExp", 564, 587, 86)
ax = box(689, 975, 775, 1063)
cloud(ax, L_DT2_S, L_DTREW_S, L_DTREW_FIT_X_S, L_DTREW_FIT_S, P_DOT, P_LINE)
cloud(ax, L_DT2_L, L_DTREW_L, L_DTREW_FIT_X_L, L_DTREW_FIT_L, O_DOT, O_LINE)
style(ax, (-0.23, 1.57), (0.45, 1.4), [0, 0.5, 1], [0.8, 1.2], ylab=False)
for xc, s in [(416, "Coh"), (508, "Decision time (s)"), (632, "Coh"), (724, "Decision time (s)")]:
    ptxt(xc, 1091, s, fontsize=10)

fig.savefig("out.png", dpi=100, facecolor="white")
